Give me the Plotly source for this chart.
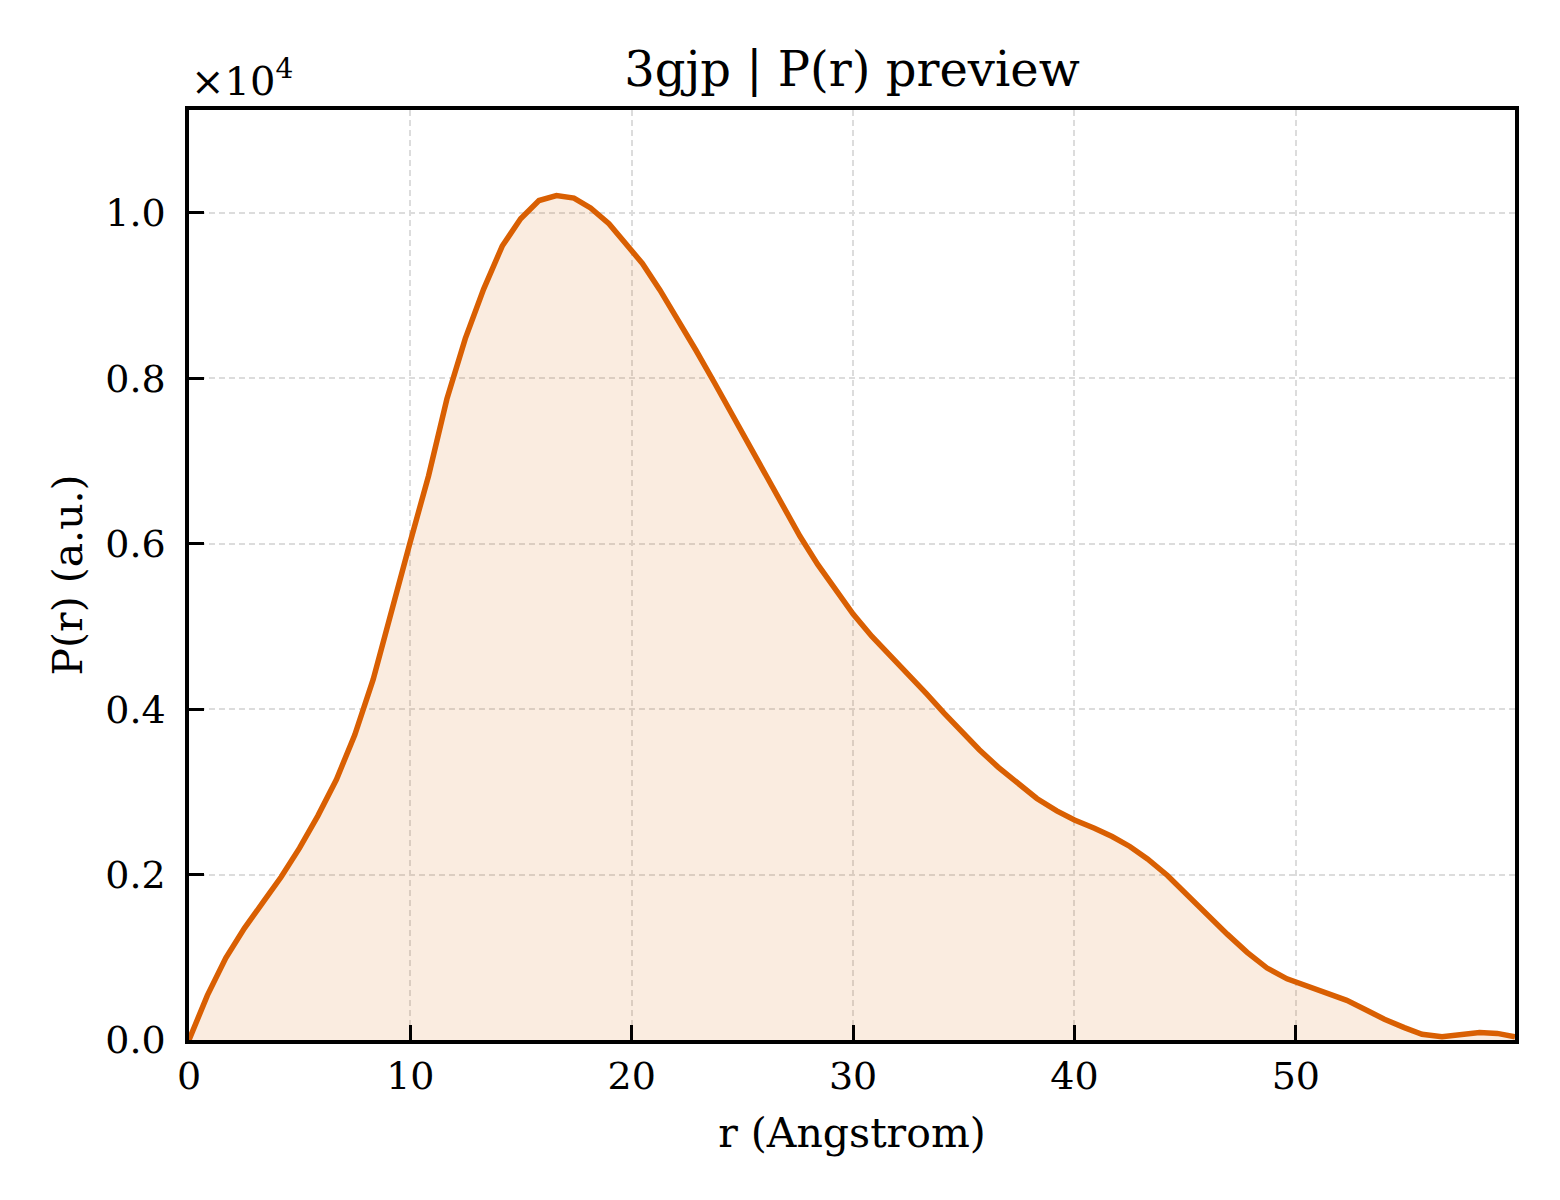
"""P(r) preview for 3gjp, redrawn with plotly."""

import plotly.graph_objects as go

# distance grid (Angstrom) and pair distribution P(r), arbitrary units
r_vals = [0.0, 0.83, 1.66, 2.50, 3.33, 4.16, 4.99, 5.82, 6.66, 7.49, 8.32, 9.15,
          9.98, 10.82, 11.65, 12.48, 13.31, 14.15, 14.98, 15.81, 16.60, 17.39,
          18.14, 18.97, 19.73, 20.48, 21.27, 22.10, 22.90, 23.73, 24.48, 25.24,
          25.99, 26.82, 27.60, 28.40, 29.20, 30.00, 30.85, 31.65, 32.47, 33.30,
          34.12, 34.90, 35.70, 36.55, 37.40, 38.30, 39.20, 40.00, 40.90, 41.70,
          42.50, 43.30, 44.20, 45.10, 46.00, 46.90, 47.80, 48.70, 49.60, 50.50,
          51.40, 52.30, 53.20, 54.00, 54.90, 55.70, 56.60, 57.40, 58.30, 59.10,
          59.90]
pr_vals = [0, 540, 990, 1350, 1660, 1970, 2320, 2710, 3150, 3690, 4360, 5200,
           6010, 6820, 7750, 8480, 9080, 9600, 9930, 10150, 10210, 10180,
           10060, 9870, 9640, 9390, 9070, 8710, 8340, 7950, 7590, 7230,
           6840, 6440, 6090, 5750, 5440, 5150, 4880, 4660, 4430, 4190,
           3950, 3730, 3510, 3300, 3110, 2920, 2770, 2660, 2560, 2460,
           2340, 2190, 1990, 1750, 1520, 1280, 1060, 870, 740, 650,
           570, 480, 360, 250, 150, 70, 40, 60, 90, 80,
           40]

x_ticks = [0, 10, 20, 30, 40, 50]
y_ticks = [0, 2000, 4000, 6000, 8000, 10000]
y_ticktext = ["0.0", "0.2", "0.4", "0.6", "0.8", "1.0"]

pdb_id = "3gjp"
line_color = "#d95f02"
serif = "DejaVu Serif"

fig = go.Figure()
fig.add_trace(
    go.Scatter(
        x=r_vals,
        y=pr_vals,
        mode="lines",
        line=dict(color=line_color, width=5.5),
        fill="tozeroy",
        fillcolor="rgba(217,95,2,0.12)",
        showlegend=False,
    )
)

axis_common = dict(
    showline=True,
    linecolor="black",
    linewidth=3.5,
    mirror=True,
    ticks="inside",
    ticklen=15,
    tickwidth=3,
    tickcolor="black",
    showgrid=True,
    gridcolor="#dcdcdc",
    gridwidth=1.5,
    griddash="6px,4px",
    zeroline=False,
    tickfont=dict(family=serif, size=38, color="black"),
    title_font=dict(family=serif, size=41, color="black"),
)

fig.update_xaxes(
    **axis_common,
    range=[0, 59.9],
    tickvals=x_ticks,
    title_text="r (Angstrom)",
    title_standoff=22,
    ticklabelstandoff=0,
)
fig.update_yaxes(
    **axis_common,
    range=[0, 11245],
    tickvals=y_ticks,
    ticktext=y_ticktext,
    title_text="P(r) (a.u.)",
    title_standoff=11,
    ticklabelstandoff=12,
)

# matplotlib style offset text above the y axis
fig.add_annotation(
    x=0, y=1, xref="paper", yref="paper",
    xanchor="left", yanchor="bottom", yshift=4,
    text="×10<sup>4</sup>", showarrow=False,
    font=dict(family=serif, size=40, color="black"),
)

fig.update_layout(
    width=1544,
    height=1184,
    margin=dict(l=181, r=37, t=102, b=152),
    paper_bgcolor="white",
    plot_bgcolor="white",
    title=dict(
        text=f"{pdb_id} | P(r) preview",
        x=0.5, xref="paper", xanchor="center",
        y=1, yref="paper", yanchor="bottom",
        pad=dict(b=24),
        font=dict(family=serif, size=48, color="black"),
    ),
)

fig.write_html("out.html")
